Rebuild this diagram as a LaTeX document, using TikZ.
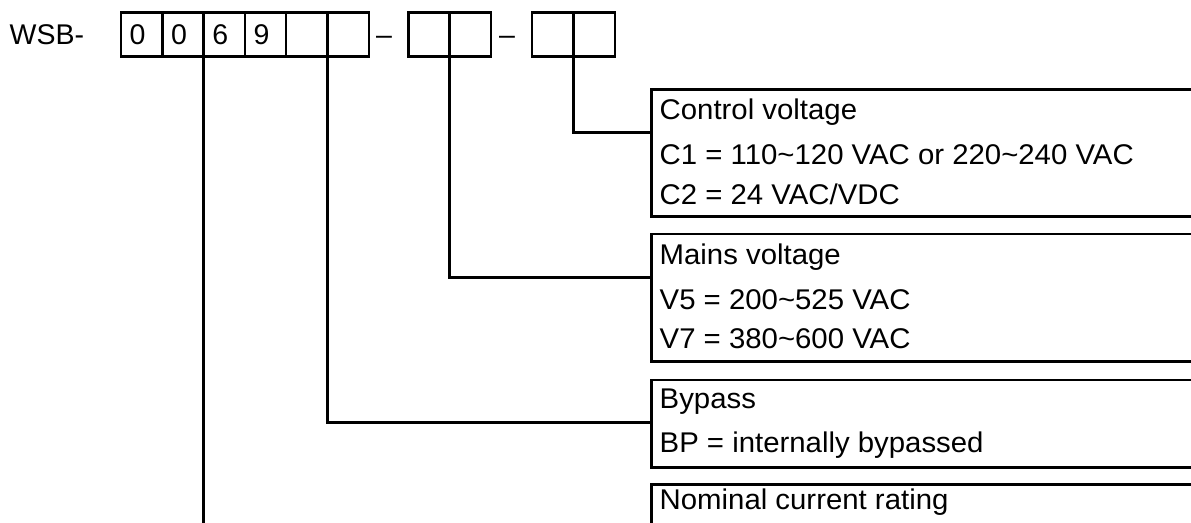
\documentclass[tikz,border=0pt]{standalone}
\usepackage{fontspec}
\setmainfont{Liberation Sans}
\newfontfamily\boxfont{Liberation Sans}[FakeStretch=1.03]
\begin{document}
\begin{tikzpicture}[x=1pt,y=-1pt,
  cell/.style={draw,line width=2.5pt,minimum width=41.3pt,minimum height=44pt,inner sep=0pt,outer sep=0pt,anchor=north west},
  hdr/.style={font=\fontsize{28.5}{30}\selectfont,inner sep=0pt,anchor=base west},
  ibox/.style={draw,line width=2.5pt,minimum width=600pt,inner sep=0pt,outer sep=0pt,anchor=north west},
  itxt/.style={font=\boxfont\fontsize{28.5}{30}\selectfont,inner sep=0pt,anchor=base west},
  conn/.style={line width=2.5pt}]
\useasboundingbox (0,0) rectangle (1191,522);
\clip (0,0) rectangle (1191,522);
% header
\node[hdr] (wsb) at (9.5,44) {WSB-};
\foreach \i/\x in {1/121,2/162.3,3/203.6,4/244.9,5/286.2,6/327.5}{
  \node[cell] (a\i) at (\x,12.7) {};
}
\foreach \i/\x in {1/408.3,2/449.6}{
  \node[cell] (b\i) at (\x,12.7) {};
}
\foreach \i/\x in {1/532.2,2/573.5}{
  \node[cell] (c\i) at (\x,12.7) {};
}
\node[hdr] (d1) at (129.5,44.5) {0};
\node[hdr] (d2) at (170.8,44.5) {0};
\node[hdr] (d3) at (212.1,44.5) {6};
\node[hdr] (d4) at (253.4,44.5) {9};
\node[hdr] (dash1) at (376,44) {–};
\node[hdr] (dash2) at (499,44) {–};
% boxes
\node[ibox,minimum height=127.4pt] (ctrl) at (651.7,89.3) {};
\node[ibox,minimum height=127.7pt] (mains) at (651.7,234) {};
\node[ibox,minimum height=87.3pt] (byp) at (651.7,380) {};
\node[ibox,minimum height=100pt] (nom) at (651.7,484.3) {};
% texts
\node[itxt] (t1) at (659.5,119.5) {Control voltage};
\node[itxt] (t2) at (659.5,164) {C1 = 110\textasciitilde120 VAC or 220\textasciitilde240 VAC};
\node[itxt] (t3) at (659.5,204) {C2 = 24 VAC/VDC};
\node[itxt] (t4) at (659.5,264.5) {Mains voltage};
\node[itxt] (t5) at (659.5,309) {V5 = 200\textasciitilde525 VAC};
\node[itxt] (t6) at (659.5,348.5) {V7 = 380\textasciitilde600 VAC};
\node[itxt] (t7) at (659.5,408.3) {Bypass};
\node[itxt] (t8) at (659.5,452.7) {BP = internally bypassed};
\node[itxt] (t9) at (659.5,509) {Nominal current rating};
% connector ends
\coordinate (ctrlin) at (651.7,132.3);
\coordinate (mainsin) at (651.7,277.7);
\coordinate (bypin) at (651.7,422.3);
\coordinate (nomin) at (203.6,530);
\draw[conn] (c2.south west) |- (ctrlin);
\draw[conn] (b2.south west) |- (mainsin);
\draw[conn] (a6.south west) |- (bypin);
\draw[conn] (a3.south west) -- (nomin);
\end{tikzpicture}
\end{document}
